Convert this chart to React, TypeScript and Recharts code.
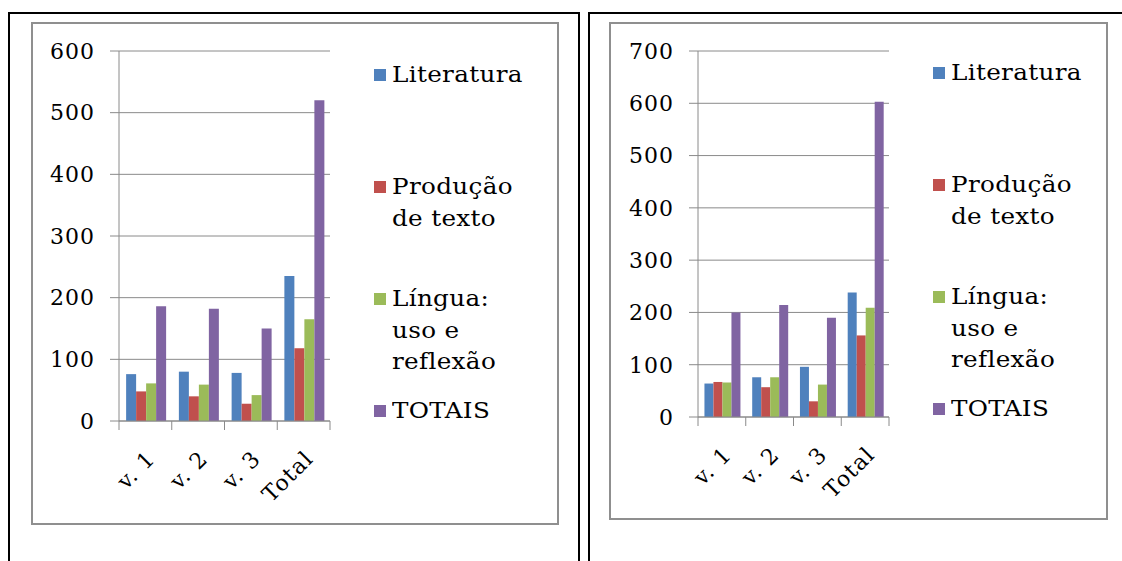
import React from 'react';
import { BarChart, Bar, XAxis, YAxis, CartesianGrid, Legend, Text } from 'recharts';

// Category labels along the horizontal axis
const categories = ['v. 1', 'v. 2', 'v. 3', 'Total'];

// Series names (line breaks as shown in the legend), keys and colours
const seriesNames = ['Literatura', 'Produção\nde texto', 'Língua:\nuso e\nreflexão', 'TOTAIS'];
const seriesKeys = ['literatura', 'producao', 'lingua', 'totais'];
const seriesColors = ['#4F81BD', '#C0504D', '#9BBB59', '#8064A2'];

// Left chart values
const literaturaA = [76, 80, 78, 235];
const producaoA = [48, 40, 28, 118];
const linguaA = [61, 59, 42, 165];
const totaisA = [186, 182, 150, 520];
const yTicksA = [0, 100, 200, 300, 400, 500, 600];

// Right chart values
const literaturaB = [64, 76, 96, 238];
const producaoB = [67, 57, 30, 156];
const linguaB = [66, 76, 62, 209];
const totaisB = [200, 214, 190, 603];
const yTicksB = [0, 100, 200, 300, 400, 500, 600, 700];

const FONT = '"DejaVu Serif", serif';
const GRID = '#8a8a8a';
const TICK_LEN = 9;
const LABEL_GAP = 31;

const buildRows = (series: number[][]) =>
  categories.map((cat, i) => {
    const row: Record<string, string | number> = { cat };
    seriesKeys.forEach((k, s) => {
      row[k] = series[s][i];
    });
    return row;
  });

const rowsA = buildRows([literaturaA, producaoA, linguaA, totaisA]);
const rowsB = buildRows([literaturaB, producaoB, linguaB, totaisB]);

// Category label rotated 45°, plus the tick marks that sit between categories
const CategoryTick = (props: any) => {
  const { x, y, payload, index } = props;
  const half = typeof payload?.offset === 'number' ? payload.offset : 0;
  const axisY = y - LABEL_GAP;
  const isLast = index === categories.length - 1;
  return (
    <g>
      {half > 0 && (
        <line x1={x - half} x2={x - half} y1={axisY} y2={axisY + TICK_LEN} stroke={GRID} />
      )}
      {half > 0 && isLast && (
        <line x1={x + half} x2={x + half} y1={axisY} y2={axisY + TICK_LEN} stroke={GRID} />
      )}
      <Text
        x={x}
        y={y - 3}
        angle={-45}
        textAnchor="end"
        verticalAnchor="start"
        fontFamily={FONT}
        fontSize={22}
        fill="#000"
        style={{ letterSpacing: 1.2 }}
      >
        {payload.value}
      </Text>
    </g>
  );
};

const LegendContent = () => (
  <div style={{ display: 'flex', flexDirection: 'column', fontFamily: FONT }}>
    {seriesNames.map((name, i) => (
      <div key={seriesKeys[i]} style={{ height: 112, display: 'flex', alignItems: 'flex-start' }}>
        <span
          style={{
            width: 12,
            height: 12,
            background: seriesColors[i],
            marginTop: 10,
            marginRight: 6,
            flex: 'none',
          }}
        />
        <span
          style={{
            display: 'inline-block',
            whiteSpace: 'pre-line',
            lineHeight: '31.5px',
            fontSize: 22,
            letterSpacing: 0.3,
            color: '#000',
            transform: 'scaleX(1.12)',
            transformOrigin: 'left center',
          }}
        >
          {name}
        </span>
      </div>
    ))}
  </div>
);

type PanelProps = {
  rows: Record<string, string | number>[];
  yTicks: number[];
  width: number;
  height: number;
  rightMargin: number;
  yAxisWidth: number;
  xAxisHeight: number;
  legendLeft: number;
  legendTop: number;
};

const Panel = ({ rows, yTicks, width, height, rightMargin, yAxisWidth, xAxisHeight, legendLeft, legendTop }: PanelProps) => (
  <BarChart
    width={width}
    height={height}
    data={rows}
    margin={{ top: 27, right: rightMargin, bottom: 0, left: 0 }}
    barCategoryGap="13.5%"
    barGap={0}
  >
    <CartesianGrid vertical={false} stroke={GRID} strokeWidth={1} />
    <XAxis
      dataKey="cat"
      height={xAxisHeight}
      interval={0}
      tickLine={false}
      tickSize={0}
      tickMargin={LABEL_GAP}
      axisLine={{ stroke: GRID }}
      tick={<CategoryTick />}
    />
    <YAxis
      width={yAxisWidth}
      domain={[yTicks[0], yTicks[yTicks.length - 1]]}
      ticks={yTicks}
      interval={0}
      tickSize={TICK_LEN}
      tickMargin={15}
      axisLine={{ stroke: GRID }}
      tickLine={{ stroke: GRID }}
      tick={{ fontFamily: FONT, fontSize: 22, fill: '#000', style: { letterSpacing: 1 } }}
    />
    <Legend
      layout="vertical"
      align="center"
      verticalAlign="middle"
      content={<LegendContent />}
      wrapperStyle={{ left: legendLeft, top: legendTop, width: 185, margin: 0 }}
    />
    {seriesKeys.map((k, i) => (
      <Bar key={k} dataKey={k} name={seriesNames[i]} fill={seriesColors[i]} isAnimationActive={false} />
    ))}
  </BarChart>
);

export default function App() {
  return (
    <div style={{ position: 'absolute', left: 0, top: 0, width: 1122, height: 561, overflow: 'hidden', background: '#fff' }}>
      {/* outer frames */}
      <div style={{ position: 'absolute', left: 8, top: 12, width: 572, height: 620, border: '2px solid #000', boxSizing: 'border-box' }} />
      <div style={{ position: 'absolute', left: 588, top: 12, width: 620, height: 620, border: '2px solid #000', boxSizing: 'border-box' }} />
      {/* left chart area */}
      <div style={{ position: 'absolute', left: 31, top: 22, width: 528, height: 503, border: '2px solid #8f8f8f', boxSizing: 'border-box', background: '#fff' }}>
        <Panel
          rows={rowsA}
          yTicks={yTicksA}
          width={524}
          height={499}
          rightMargin={227}
          yAxisWidth={86}
          xAxisHeight={102}
          legendLeft={341}
          legendTop={35}
        />
      </div>
      {/* right chart area */}
      <div style={{ position: 'absolute', left: 609, top: 22, width: 499, height: 498, border: '2px solid #8f8f8f', boxSizing: 'border-box', background: '#fff' }}>
        <Panel
          rows={rowsB}
          yTicks={yTicksB}
          width={495}
          height={494}
          rightMargin={217}
          yAxisWidth={87}
          xAxisHeight={101}
          legendLeft={322}
          legendTop={33}
        />
      </div>
    </div>
  );
}
